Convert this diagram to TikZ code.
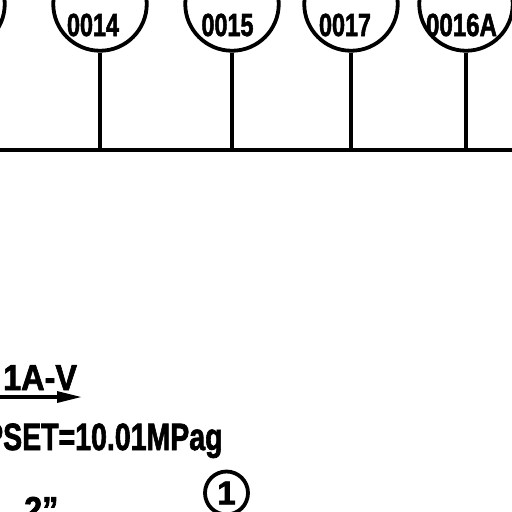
\documentclass[tikz,border=0pt]{standalone}
\usepackage{fontspec}
\setmainfont[BoldFeatures={FakeBold=2}]{Liberation Sans}
\tikzset{
  ln/.style={line width=3.8pt,line cap=butt},
  bubble/.style={circle,draw,line width=3.8pt,minimum size=93.5pt,inner sep=0pt},
  tag/.style={inner sep=0pt,font=\fontsize{32}{32}\selectfont\bfseries,xscale=0.73,anchor=center},
  lab/.style={inner sep=0pt,font=\fontsize{36}{36}\selectfont\bfseries,anchor=base west},
}
\begin{document}
\begin{tikzpicture}[x=1pt,y=-1pt]
\path[use as bounding box] (0,0) rectangle (512,512);
\clip (0,0) rectangle (512,512);
\fill[white] (0,0) rectangle (512,512);
\node[bubble] (c0) at (-42,4) {};
\node[bubble] (c14) at (100,4) {};
\node[bubble] (c15) at (232,4) {};
\node[bubble] (c17) at (351,4) {};
\node[bubble] (c16) at (466,4) {};
\node[tag] (t14) at (93,25) {0014};
\node[tag] (t15) at (227.5,25) {0015};
\node[tag] (t17) at (345,25) {0017};
\node[tag,xscale=1.03] (t16) at (461.5,25) {0016A};
\coordinate (bl) at (0,150);
\coordinate (br) at (512,150);
\coordinate (b14) at (100,150);
\coordinate (b15) at (232,150);
\coordinate (b17) at (351,150);
\coordinate (b16) at (466,150);
\draw[ln,line width=4.4pt] (bl) -- (br);
\draw[ln] (c14.south) -- (b14);
\draw[ln] (c15.south) -- (b15);
\draw[ln] (c17.south) -- (b17);
\draw[ln] (c16.south) -- (b16);
\node[lab,xscale=0.9] (tag1) at (3,390) {1A-V};
\coordinate (a0) at (0,397);
\coordinate (a1) at (60,397);
\coordinate (a2) at (81,397);
\draw[line width=4.4pt] (a0) -- (a1);
\fill (57,391) -- (a2) -- (57,403) -- cycle;
\node[lab,font=\fontsize{38}{38}\selectfont\bfseries,xscale=0.75] (pset) at (-16,450) {PSET=10.01MPag};
\node[lab,xscale=0.9] (size) at (24,522) {2\symbol{34}};
\node[circle,draw,line width=3.8pt,minimum size=43pt,inner sep=0pt] (one) at (226.5,493) {\fontsize{33}{33}\selectfont\bfseries 1};
\end{tikzpicture}
\end{document}
